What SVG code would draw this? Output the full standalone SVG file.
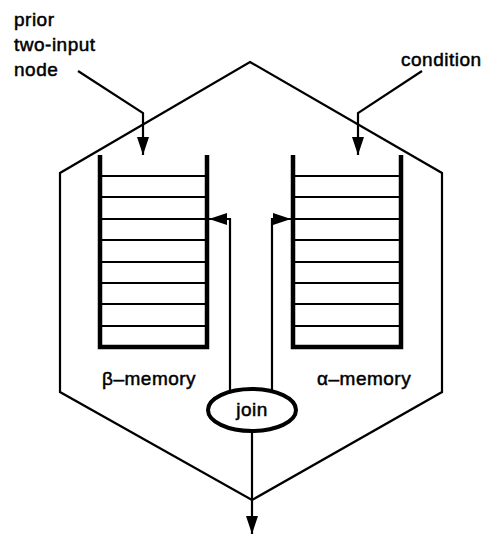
<svg xmlns="http://www.w3.org/2000/svg" width="495" height="535" viewBox="0 0 495 535">
  <defs>
    <style>
      .outline { fill: none; stroke: #000; stroke-width: 2.2; stroke-linejoin: miter; }
      .wire { fill: none; stroke: #000; stroke-width: 2.2; }
      .bar { stroke: #000; stroke-width: 4.5; fill: none; }
      .rung { stroke: #000; stroke-width: 2.2; }
      .label { font-family: "Liberation Sans", Arial, sans-serif; font-size: 19px; letter-spacing: 0.5px; fill: #000; stroke: #000; stroke-width: 0.5; }
    </style>
    <marker id="head" viewBox="0 0 18 12" refX="18" refY="6" markerWidth="18" markerHeight="12" markerUnits="userSpaceOnUse" orient="auto">
      <path d="M0,0 L18,6 L0,12 Z" fill="#000"/>
    </marker>
  </defs>

  <!-- hexagonal enclosure -->
  <g id="enclosure">
    <polygon class="outline" points="250,62 442,173 442,392 252,500 60,392 60,173"/>
  </g>

  <!-- beta memory stack -->
  <g id="beta-memory">
    <path class="bar" d="M100,155 V347 H207 V155"/>
    <g class="rung">
      <line x1="100" y1="176" x2="207" y2="176"/>
      <line x1="100" y1="197" x2="207" y2="197"/>
      <line x1="100" y1="219" x2="207" y2="219"/>
      <line x1="100" y1="240" x2="207" y2="240"/>
      <line x1="100" y1="262" x2="207" y2="262"/>
      <line x1="100" y1="283" x2="207" y2="283"/>
      <line x1="100" y1="304" x2="207" y2="304"/>
      <line x1="100" y1="326" x2="207" y2="326"/>
    </g>
    <text class="label" x="102" y="385">β–memory</text>
  </g>

  <!-- alpha memory stack -->
  <g id="alpha-memory">
    <path class="bar" d="M293,155 V347 H401 V155"/>
    <g class="rung">
      <line x1="293" y1="176" x2="401" y2="176"/>
      <line x1="293" y1="197" x2="401" y2="197"/>
      <line x1="293" y1="219" x2="401" y2="219"/>
      <line x1="293" y1="240" x2="401" y2="240"/>
      <line x1="293" y1="262" x2="401" y2="262"/>
      <line x1="293" y1="283" x2="401" y2="283"/>
      <line x1="293" y1="304" x2="401" y2="304"/>
      <line x1="293" y1="326" x2="401" y2="326"/>
    </g>
    <text class="label" x="317" y="385">α–memory</text>
  </g>

  <!-- join node -->
  <g id="join">
    <ellipse cx="252" cy="410" rx="44" ry="21" fill="#fff" stroke="#000" stroke-width="4"/>
    <text class="label" x="252" y="416" text-anchor="middle" letter-spacing="0">join</text>
  </g>

  <!-- external input labels -->
  <g id="prior-node">
    <text class="label" x="14" y="26">prior</text>
    <text class="label" x="14" y="51">two-input</text>
    <text class="label" x="14" y="76">node</text>
  </g>
  <g id="condition">
    <text class="label" x="401" y="66">condition</text>
  </g>

  <!-- connectors -->
  <g id="connectors">
    <path class="wire" d="M78,71 L143,113 V155" marker-end="url(#head)"/>
    <path class="wire" d="M422,71 L358,113 V155" marker-end="url(#head)"/>
    <path class="wire" d="M230,390 V219 H209" marker-end="url(#head)"/>
    <path class="wire" d="M272,390 V219 H291" marker-end="url(#head)"/>
    <path class="wire" d="M252,431 V534" marker-end="url(#head)"/>
  </g>
</svg>
